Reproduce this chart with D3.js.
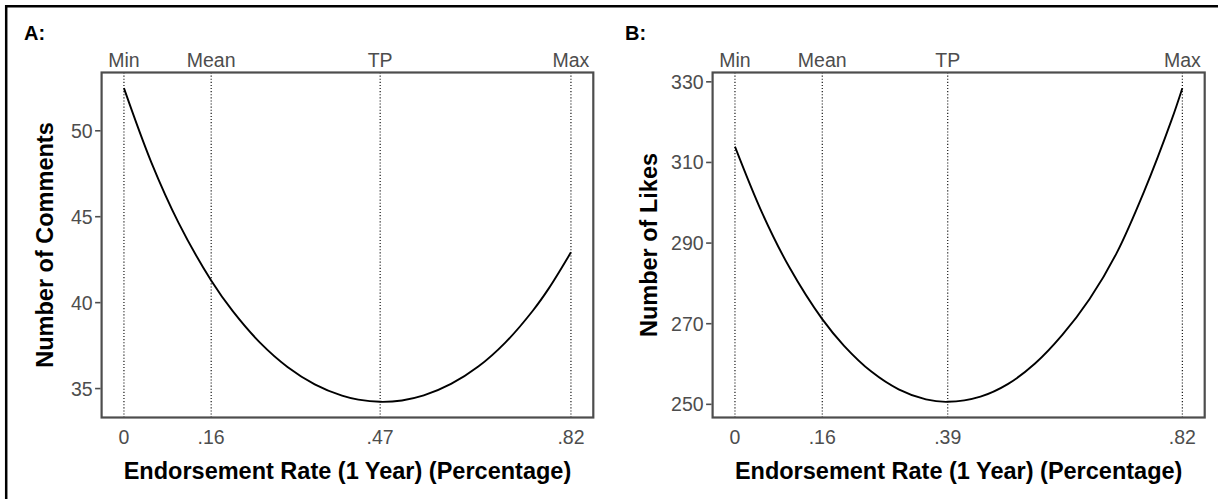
<!DOCTYPE html>
<html>
<head>
<meta charset="utf-8">
<script src="https://cdn.jsdelivr.net/npm/d3@7"></script>
<style>
  html, body { margin: 0; padding: 0; background: #fff; }
  svg { display: block; font-family: "Liberation Sans", Arial, sans-serif; }
</style>
</head>
<body>
<svg id="chart" width="1218" height="499"></svg>
<script>
// ---------------- data ----------------
const markerLabels = ["Min", "Mean", "TP", "Max"];

// Panel A: Number of Comments
const markersA = [0, 0.16, 0.47, 0.82];
const xTickLabelsA = ["0", ".16", ".47", ".82"];
const yTicksA = [35, 40, 45, 50];
const rateA = [0, 0.05, 0.10, 0.16, 0.20, 0.25, 0.30, 0.35, 0.40, 0.43, 0.47, 0.51, 0.55, 0.60, 0.65, 0.70, 0.75, 0.78, 0.82];
const commentsA = [52.45, 48.15, 44.63, 41.26, 39.46, 37.63, 36.23, 35.22, 34.56, 34.33, 34.20, 34.28, 34.57, 35.24, 36.25, 37.66, 39.50, 40.83, 42.90];

// Panel B: Number of Likes
const markersB = [0, 0.16, 0.39, 0.82];
const xTickLabelsB = ["0", ".16", ".39", ".82"];
const yTicksB = [250, 270, 290, 310, 330];
const rateB = [0, 0.05, 0.10, 0.16, 0.20, 0.25, 0.30, 0.35, 0.39, 0.45, 0.50, 0.55, 0.60, 0.65, 0.70, 0.75, 0.80, 0.82];
const likesB = [313.8, 297.3, 283.8, 271.0, 264.4, 258.0, 253.6, 251.1, 250.5, 251.8, 254.9, 260.0, 267.1, 276.0, 287.5, 302.7, 320.3, 328.3];

const xTitle = "Endorsement Rate (1 Year) (Percentage)";

// ---------------- drawing ----------------
const svg = d3.select("#chart");
const GRAY = "#4d4d4d";

// outer frame (left + top edges visible)
svg.append("line").attr("x1", 6).attr("x2", 1218).attr("y1", 6.2).attr("y2", 6.2)
  .attr("stroke", "#000").attr("stroke-width", 2.5);
svg.append("line").attr("x1", 6.2).attr("x2", 6.2).attr("y1", 5).attr("y2", 499)
  .attr("stroke", "#000").attr("stroke-width", 2.5);

function expand(ext) {
  const pad = (ext[1] - ext[0]) * 0.05;
  return [ext[0] - pad, ext[1] + pad];
}

function panel(opt) {
  const { left, right, top, bottom } = opt;
  const g = svg.append("g");
  const x = d3.scaleLinear().domain(expand(d3.extent(opt.markers))).range([left, right]);
  const y = d3.scaleLinear().domain(expand(d3.extent(opt.values))).range([bottom, top]);

  // panel label
  svg.append("text").attr("x", opt.labelX).attr("y", 40)
    .attr("font-size", 20).attr("font-weight", "bold").attr("fill", "#000")
    .text(opt.label);

  // dotted marker lines
  g.selectAll("line.marker").data(opt.markers).join("line")
    .attr("class", "marker")
    .attr("x1", d => x(d)).attr("x2", d => x(d))
    .attr("y1", top).attr("y2", bottom)
    .attr("stroke", "#000").attr("stroke-width", 1.1)
    .attr("stroke-dasharray", "1.1,2");

  // curve
  const line = d3.line()
    .x((d, i) => x(opt.rates[i]))
    .y(d => y(d))
    .curve(d3.curveCatmullRom.alpha(0.5));
  g.append("path").datum(opt.values)
    .attr("d", line).attr("fill", "none")
    .attr("stroke", "#000").attr("stroke-width", 1.9);

  // panel border
  g.append("rect").attr("x", left).attr("y", top)
    .attr("width", right - left).attr("height", bottom - top)
    .attr("fill", "none").attr("stroke", GRAY).attr("stroke-width", 2.2);

  // top labels
  g.selectAll("text.top").data(opt.markers).join("text")
    .attr("class", "top")
    .attr("x", d => x(d)).attr("y", 66.5)
    .attr("text-anchor", "middle").attr("font-size", 19.5).attr("fill", GRAY)
    .text((d, i) => markerLabels[i]);

  // x tick labels (no tick marks)
  g.selectAll("text.xt").data(opt.markers).join("text")
    .attr("class", "xt")
    .attr("x", d => x(d)).attr("y", 443.5)
    .attr("text-anchor", "middle").attr("font-size", 19.5).attr("fill", GRAY)
    .text((d, i) => opt.xLabels[i]);

  // y axis ticks + labels
  const yAxis = d3.axisLeft(y).tickValues(opt.yTicks).tickSize(5.5).tickPadding(2.5);
  const ya = g.append("g").attr("transform", `translate(${left - 1},0)`).call(yAxis);
  ya.select(".domain").remove();
  ya.selectAll(".tick line").attr("stroke", GRAY).attr("stroke-width", 1.6);
  ya.selectAll(".tick text").attr("font-size", 19.5).attr("fill", GRAY)
    .attr("font-family", "Liberation Sans, Arial, sans-serif").attr("dy", "0.36em");

  // axis titles
  g.append("text").attr("x", (left + right) / 2).attr("y", 478.5)
    .attr("text-anchor", "middle").attr("font-size", 23.5).attr("font-weight", "bold")
    .attr("fill", "#000").text(xTitle);
  g.append("text")
    .attr("transform", `translate(${opt.yTitleX},${(top + bottom) / 2}) rotate(-90)`)
    .attr("text-anchor", "middle").attr("font-size", 23.5).attr("font-weight", "bold")
    .attr("fill", "#000").text(opt.yTitle);
}

panel({
  label: "A:", labelX: 24,
  left: 101.6, right: 593.3, top: 72.5, bottom: 417.5,
  markers: markersA, xLabels: xTickLabelsA, yTicks: yTicksA,
  rates: rateA, values: commentsA,
  yTitle: "Number of Comments", yTitleX: 53.3
});

panel({
  label: "B:", labelX: 625,
  left: 712.6, right: 1204.7, top: 72.5, bottom: 417.5,
  markers: markersB, xLabels: xTickLabelsB, yTicks: yTicksB,
  rates: rateB, values: likesB,
  yTitle: "Number of Likes", yTitleX: 656.5
});
</script>
</body>
</html>
